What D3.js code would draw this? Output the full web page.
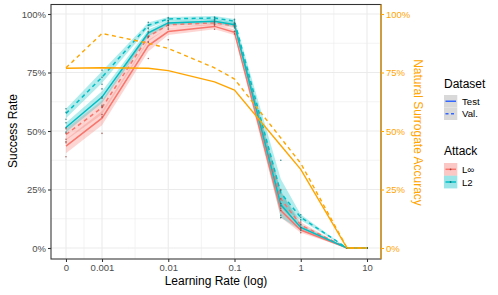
<!DOCTYPE html>
<html><head><meta charset="utf-8">
<script src="https://cdn.jsdelivr.net/npm/d3@7"></script>
<style>body{margin:0;background:#fff}svg{display:block;font-family:"Liberation Sans",Arial,sans-serif}</style>
</head><body><svg id="c" width="498" height="295"></svg>
<script>
// ---- data ----
const learningRates = [0, 0.001, 0.005, 0.01, 0.05, 0.1, 0.5, 1, 5, 10];
const xTickValues = [0, 0.001, 0.01, 0.1, 1, 10];
const xTickLabels = ["0", "0.001", "0.01", "0.1", "1", "10"];
const yTickValues = [0, 0.25, 0.5, 0.75, 1];
const yTickLabels = ["0%", "25%", "50%", "75%", "100%"];

const linfTest = [0.435, 0.555, 0.865, 0.925, 0.947, 0.922, 0.16, 0.077, 0, 0];
const linfVal  = [0.485, 0.60, 0.903, 0.954, 0.962, 0.95, 0.21, 0.098, 0, 0];
const l2Test   = [0.515, 0.645, 0.919, 0.962, 0.969, 0.954, 0.185, 0.088, 0, 0];
const l2Val    = [0.575, 0.73, 0.952, 0.979, 0.983, 0.969, 0.235, 0.131, 0, 0];

const linfTestSe = [0.03, 0.03, 0.025, 0.015, 0.012, 0.012, 0.03, 0.012, 0, 0];
const linfValSe  = [0.025, 0.03, 0.02, 0.012, 0.01, 0.01, 0.035, 0.012, 0, 0];
const l2TestSe   = [0.02, 0.025, 0.015, 0.01, 0.01, 0.01, 0.055, 0.012, 0, 0];
const l2ValSe    = [0.02, 0.025, 0.012, 0.008, 0.008, 0.01, 0.06, 0.012, 0, 0];

const accTest = [0.768, 0.77, 0.768, 0.758, 0.71, 0.675, 0.438, 0.336, 0, 0];
const accVal  = [0.77, 0.917, 0.875, 0.853, 0.77, 0.722, 0.47, 0.362, 0, 0];

const linfTestRuns = [
  [0.39, 0.49, 0.81, 0.89, 0.935, 0.915, 0.13, 0.065, 0, 0],
  [0.45, 0.57, 0.88, 0.935, 0.95, 0.925, 0.16, 0.08, 0, 0],
  [0.465, 0.605, 0.905, 0.95, 0.956, 0.926, 0.19, 0.086, 0, 0]];
const linfValRuns = [
  [0.455, 0.56, 0.88, 0.94, 0.955, 0.94, 0.17, 0.085, 0, 0],
  [0.49, 0.60, 0.905, 0.955, 0.962, 0.95, 0.21, 0.098, 0, 0],
  [0.51, 0.64, 0.925, 0.967, 0.969, 0.96, 0.25, 0.111, 0, 0]];
const l2TestRuns = [
  [0.495, 0.61, 0.9, 0.952, 0.962, 0.945, 0.13, 0.075, 0, 0],
  [0.515, 0.645, 0.92, 0.962, 0.97, 0.955, 0.18, 0.088, 0, 0],
  [0.535, 0.68, 0.937, 0.972, 0.975, 0.962, 0.245, 0.101, 0, 0]];
const l2ValRuns = [
  [0.55, 0.70, 0.94, 0.972, 0.978, 0.96, 0.14, 0.12, 0, 0],
  [0.58, 0.73, 0.952, 0.98, 0.984, 0.97, 0.19, 0.131, 0, 0],
  [0.595, 0.76, 0.964, 0.985, 0.987, 0.977, 0.375, 0.142, 0, 0]];

// ---- layout ----
const ZERO_POS = 0.000286; // where lr = 0 is placed on the log axis
const panel = {left: 51, right: 381, top: 4.5, bottom: 259};
const RED = "#F8766D", CYAN = "#00BFC4", ORANGE = "#FFA500", BLUE = "#3366FF";

const svg = d3.select("#c");
svg.append("rect").attr("width", 498).attr("height", 295).attr("fill", "#fff");

const xLog = d3.scaleLog().domain([0.001, 10]).range([102, 367]);
const x = v => xLog(v === 0 ? ZERO_POS : v);
const y = d3.scaleLinear().domain([0, 1]).range([248, 14]);

// grid
const g = svg.append("g");
const xMajor = xTickValues.map(v => x(v));
const xMinor = xMajor.slice(0, -1).map((p, i) => (p + xMajor[i + 1]) / 2);
const yMinor = [0.125, 0.375, 0.625, 0.875];
g.selectAll(".ymin").data(yMinor).join("line")
  .attr("x1", panel.left).attr("x2", panel.right)
  .attr("y1", d => y(d)).attr("y2", d => y(d))
  .attr("stroke", "#EBEBEB").attr("stroke-width", 0.6);
g.selectAll(".xmin").data(xMinor).join("line")
  .attr("y1", panel.top).attr("y2", panel.bottom)
  .attr("x1", d => d).attr("x2", d => d)
  .attr("stroke", "#EBEBEB").attr("stroke-width", 0.6);
g.selectAll(".ymaj").data(yTickValues).join("line")
  .attr("x1", panel.left).attr("x2", panel.right)
  .attr("y1", d => y(d)).attr("y2", d => y(d))
  .attr("stroke", "#EBEBEB").attr("stroke-width", 1.1);
g.selectAll(".xmaj").data(xMajor).join("line")
  .attr("y1", panel.top).attr("y2", panel.bottom)
  .attr("x1", d => d).attr("x2", d => d)
  .attr("stroke", "#EBEBEB").attr("stroke-width", 1.1);

// series
const series = [
  {mean: linfTest, se: linfTestSe, runs: linfTestRuns, color: RED, dot: "#a0463f", dash: null},
  {mean: linfVal, se: linfValSe, runs: linfValRuns, color: RED, dot: "#a0463f", dash: "4,3.5"},
  {mean: l2Test, se: l2TestSe, runs: l2TestRuns, color: CYAN, dot: "#17797c", dash: null},
  {mean: l2Val, se: l2ValSe, runs: l2ValRuns, color: CYAN, dot: "#17797c", dash: "4,3.5"}
];
const area = d3.area().x(d => x(d.lr)).y0(d => y(Math.max(0, d.m - d.s))).y1(d => y(d.m + d.s));
const line = d3.line().x(d => x(d.lr)).y(d => y(d.m));

series.forEach(s => {
  const pts = learningRates.map((lr, i) => ({lr, m: s.mean[i], s: s.se[i]}));
  svg.append("path").datum(pts).attr("d", area)
    .attr("fill", s.color).attr("fill-opacity", 0.3);
});
series.forEach(s => {
  const pts = learningRates.map((lr, i) => ({lr, m: s.mean[i]}));
  svg.append("path").datum(pts).attr("d", line)
    .attr("fill", "none").attr("stroke", s.color).attr("stroke-width", 1.5)
    .attr("stroke-dasharray", s.dash);
});
series.forEach(s => {
  const pts = [];
  s.runs.forEach(r => r.forEach((v, i) => pts.push({lr: learningRates[i], v})));
  svg.append("g").selectAll("circle").data(pts).join("circle")
    .attr("cx", d => x(d.lr)).attr("cy", d => y(d.v)).attr("r", 0.8)
    .attr("fill", s.dot).attr("fill-opacity", 0.8);
});

// accuracy (secondary axis)
[{v: accTest, dash: null}, {v: accVal, dash: "4,3.5"}].forEach(s => {
  const pts = learningRates.map((lr, i) => ({lr, m: s.v[i]}));
  svg.append("path").datum(pts).attr("d", line)
    .attr("fill", "none").attr("stroke", ORANGE).attr("stroke-width", 1.4)
    .attr("stroke-dasharray", s.dash);
});

// panel border
svg.append("rect").attr("x", panel.left).attr("y", panel.top)
  .attr("width", panel.right - panel.left).attr("height", panel.bottom - panel.top)
  .attr("fill", "none").attr("stroke", "#333").attr("stroke-width", 1.07);

// axes
const yAxisL = svg.append("g").attr("transform", `translate(${panel.left},0)`)
  .call(d3.axisLeft(y).tickValues(yTickValues).tickFormat((d, i) => yTickLabels[i]).tickSize(3).tickPadding(2));
yAxisL.select(".domain").remove();
yAxisL.selectAll("line").attr("stroke", "#333").attr("stroke-width", 1.07);
yAxisL.selectAll("text").attr("fill", "#4D4D4D").style("font-size", "9.5px").style("font-family", "Liberation Sans, Arial, sans-serif");

const yAxisR = svg.append("g").attr("transform", `translate(${panel.right},0)`)
  .call(d3.axisRight(y).tickValues(yTickValues).tickFormat((d, i) => yTickLabels[i]).tickSize(3).tickPadding(2));
yAxisR.select(".domain").remove();
yAxisR.selectAll("line").attr("stroke", ORANGE).attr("stroke-width", 1.07);
yAxisR.selectAll("text").attr("fill", ORANGE).style("font-size", "9.5px").style("font-family", "Liberation Sans, Arial, sans-serif");
svg.append("line").attr("x1", panel.right).attr("x2", panel.right)
  .attr("y1", panel.top).attr("y2", panel.bottom).attr("stroke", ORANGE).attr("stroke-width", 1.1);

const xAxisG = svg.append("g").attr("transform", `translate(0,${panel.bottom})`)
  .call(d3.axisBottom(xLog).tickValues(xTickValues.map(v => v === 0 ? ZERO_POS : v))
    .tickFormat((d, i) => xTickLabels[i]).tickSize(3).tickPadding(2));
xAxisG.select(".domain").remove();
xAxisG.selectAll("line").attr("stroke", "#333").attr("stroke-width", 1.07);
xAxisG.selectAll("text").attr("fill", "#4D4D4D").style("font-size", "9.5px").style("font-family", "Liberation Sans, Arial, sans-serif");

// titles
const F = "Liberation Sans, Arial, sans-serif";
svg.append("text").attr("transform", "translate(17,131) rotate(-90)").attr("text-anchor", "middle")
  .style("font-size", "12px").style("font-family", F).attr("fill", "#000").text("Success Rate");
svg.append("text").attr("x", 216).attr("y", 285).attr("text-anchor", "middle")
  .style("font-size", "12px").style("font-family", F).attr("fill", "#000").text("Learning Rate (log)");
svg.append("text").attr("transform", "translate(414,132.5) rotate(90)").attr("text-anchor", "middle")
  .style("font-size", "12px").style("font-family", F).attr("fill", ORANGE).text("Natural Surrogate Accuracy");

// legend
const lg = svg.append("g");
lg.append("text").attr("x", 444).attr("y", 88).style("font-size", "12px").style("font-family", F).text("Dataset");
const dsKeys = [{label: "Test", dash: null}, {label: "Val.", dash: "3,2.5"}];
dsKeys.forEach((k, i) => {
  const y0 = 95 + i * 12.5;
  lg.append("rect").attr("x", 444).attr("y", y0).attr("width", 13.3).attr("height", 12.5).attr("fill", "#D9D9D9");
  lg.append("line").attr("x1", 445.5).attr("x2", 456).attr("y1", y0 + 6.25).attr("y2", y0 + 6.25)
    .attr("stroke", BLUE).attr("stroke-width", 1.5).attr("stroke-dasharray", k.dash);
  lg.append("text").attr("x", 462).attr("y", y0 + 9.8).style("font-size", "9.6px").style("font-family", F).attr("fill", "#000").text(k.label);
});
lg.append("text").attr("x", 444).attr("y", 155).style("font-size", "12px").style("font-family", F).text("Attack");
const atKeys = [{label: "L∞", color: RED, dot: "#a0463f"}, {label: "L2", color: CYAN, dot: "#17797c"}];
atKeys.forEach((k, i) => {
  const y0 = 163 + i * 12.7;
  lg.append("rect").attr("x", 444).attr("y", y0).attr("width", 13.3).attr("height", 12.7).attr("fill", k.color).attr("fill-opacity", 0.4);
  lg.append("line").attr("x1", 445.5).attr("x2", 456).attr("y1", y0 + 6.3).attr("y2", y0 + 6.3)
    .attr("stroke", k.color).attr("stroke-width", 1.5);
  lg.append("circle").attr("cx", 450.6).attr("cy", y0 + 6.3).attr("r", 0.9).attr("fill", k.dot);
  lg.append("text").attr("x", 462).attr("y", y0 + 9.8).style("font-size", "9.6px").style("font-family", F).attr("fill", "#000").text(k.label);
});
</script></body></html>
